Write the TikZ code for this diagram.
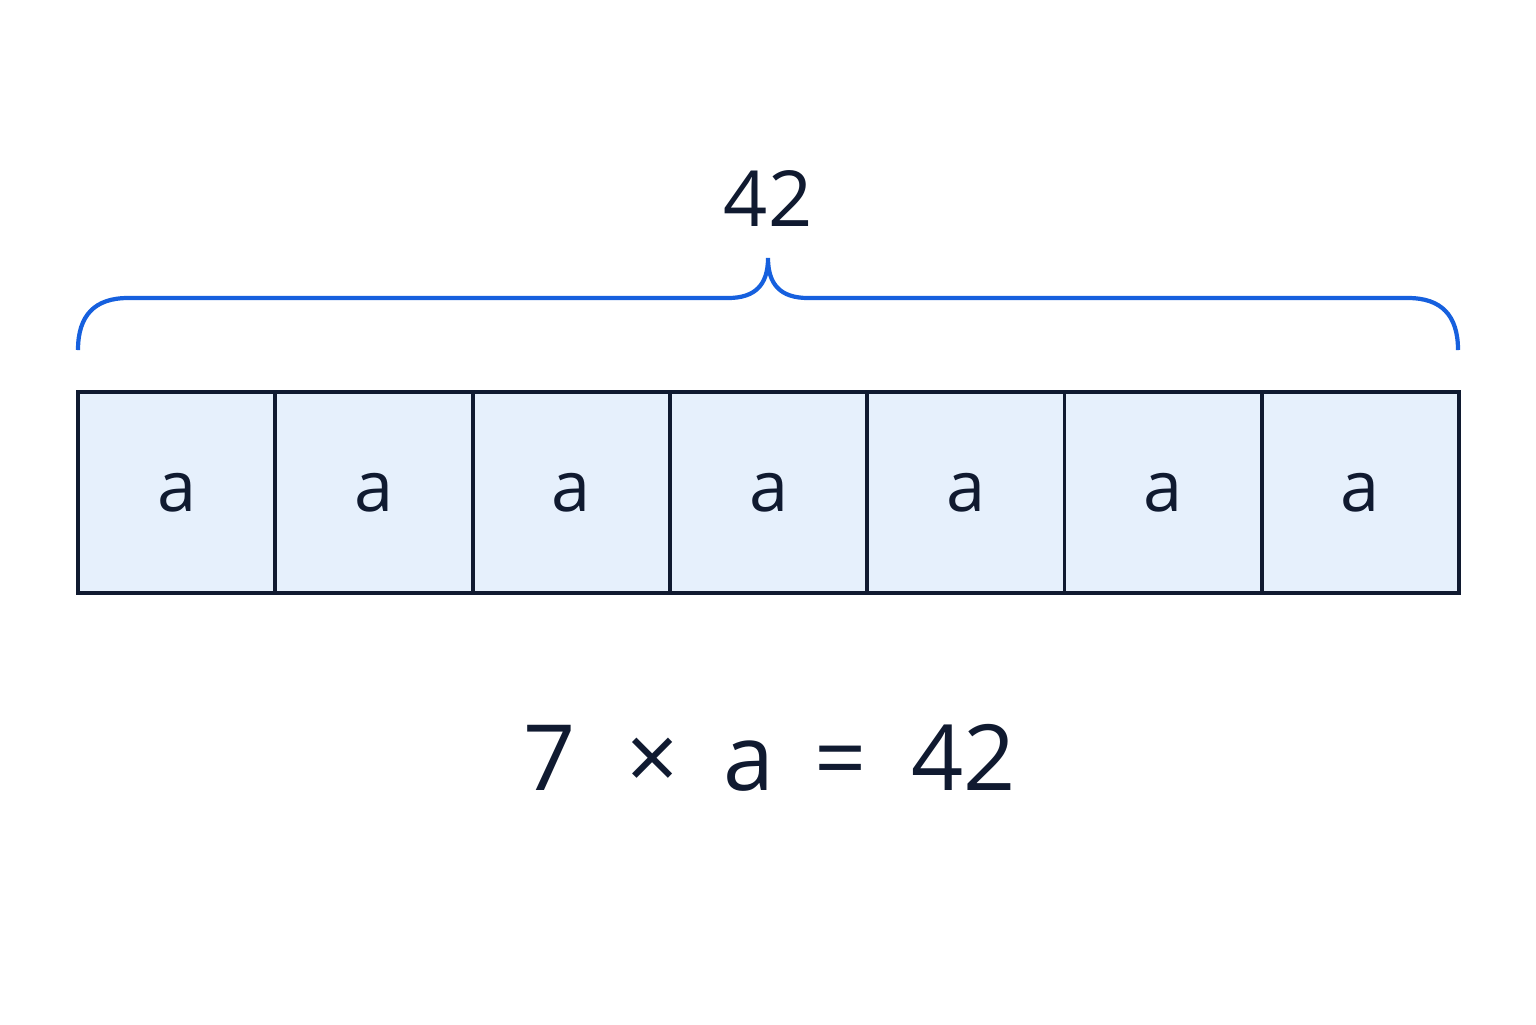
\documentclass[tikz,border=0pt]{standalone}
\usepackage{fontspec}
\setmainfont{Open Sans}
\definecolor{bracebl}{RGB}{22, 96, 222}
\definecolor{inknavy}{RGB}{16, 26, 48}
\definecolor{cellfill}{RGB}{230, 240, 252}
\tikzset{cell/.style={rectangle, draw=inknavy, fill=cellfill, line width=1.1pt,
    minimum width=1.973cm, minimum height=2.01cm, inner sep=0pt, text=inknavy,
    font=\fontsize{20}{24}\selectfont, text depth=0pt, yshift=-0.06cm},
  brace/.style={draw=bracebl, line width=1.2pt}}

\begin{document}
\begin{tikzpicture}[x=1cm, y=1cm]
  \useasboundingbox (0,0) rectangle (15.36,-10.24);
  \foreach \i in {1,...,7}
    \node [cell] (cell\i) at ({0.78+1.973*(\i-0.5)}, -4.865) {a};
  % brace over the strip
  \coordinate (bl) at (0.78,-3.50);
  \coordinate (br) at (14.58,-3.50);
  \coordinate (tip) at (7.68,-2.58);
  \path [brace] (bl) .. controls (0.78,-3.15) and (0.95,-2.98) .. (1.28,-2.98)
    -- (7.28,-2.98) .. controls (7.55,-2.98) and (7.68,-2.85) .. (tip)
    .. controls (7.68,-2.85) and (7.81,-2.98) .. (8.08,-2.98)
    -- (14.08,-2.98) .. controls (14.41,-2.98) and (14.58,-3.15) .. (br);
  \node [text=inknavy, font=\fontsize{22}{26}\selectfont] (total) at (7.68,-1.98) {42};
  \node [text=inknavy, font=\fontsize{26}{30}\selectfont] (equation) at (7.70,-7.58)
    {7\hspace{0.5cm}×\hspace{0.45cm}a\hspace{0.4cm}=\hspace{0.45cm}42};
\end{tikzpicture}
\end{document}
